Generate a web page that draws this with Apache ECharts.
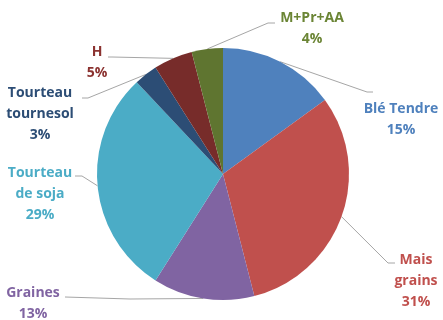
<!DOCTYPE html>
<html>
<head>
<meta charset="utf-8">
<script src="https://cdn.jsdelivr.net/npm/echarts@6/dist/echarts.min.js"></script>
<style>
html,body{margin:0;padding:0;background:#fff;}
#chart{width:443px;height:320px;}
</style>
</head>
<body>
<div id="chart"></div>
<script>
const categories = ['Blé Tendre', 'Mais\ngrains', 'Graines', 'Tourteau\nde soja', 'Tourteau\ntournesol', 'H', 'M+Pr+AA'];
const values = [15, 31, 13, 29, 3, 5, 4];
const sliceColors = ['#4F81BD', '#C0504D', '#8064A2', '#4BACC6', '#2C4D75', '#772C2A', '#5F7530'];
const labelColors = ['#4F81BD', '#C0504D', '#8064A2', '#4BACC6', '#2C4D75', '#8B3230', '#6B8535'];

// label block centres and elbow points (layout only)
const labelPos = [
  {x: 401, y: 120, elbow: [367, 92], end: [373, 92]},
  {x: 416, y: 281, elbow: [388, 263], end: [395, 263]},
  {x: 33, y: 304, elbow: [130, 299], end: [65, 297]},
  {x: 40, y: 194, elbow: [82, 176], end: [75, 176]},
  {x: 40, y: 114, elbow: [88, 98], end: [82, 98]},
  {x: 97, y: 63, elbow: [112, 57], end: [108, 57]},
  {x: 312, y: 29, elbow: [268, 23], end: [275, 23]}
];

const chart = echarts.init(document.getElementById('chart'), null, {renderer: 'canvas'});
chart.setOption({
  backgroundColor: '#ffffff',
  animation: false,
  series: [{
    type: 'pie',
    center: [223, 174],
    radius: [0, 126],
    startAngle: 90,
    clockwise: true,
    avoidLabelOverlap: false,
    data: categories.map((c, i) => ({
      name: c,
      value: values[i],
      itemStyle: {color: sliceColors[i]},
      label: {color: labelColors[i]}
    })),
    itemStyle: {borderWidth: 0},
    label: {
      show: true,
      formatter: p => p.name + '\n' + p.value + '%',
      fontFamily: 'Open Sans',
      fontWeight: 'bold',
      fontSize: 14,
      lineHeight: 21,
      align: 'center',
      overflow: 'none'
    },
    labelLine: {
      show: true,
      lineStyle: {color: '#A6A6A6', width: 1}
    },
    labelLayout: function (params) {
      const lp = labelPos[params.dataIndex];
      const start = params.labelLinePoints ? params.labelLinePoints[0] : lp.elbow;
      return {
        x: lp.x,
        y: lp.y,
        align: 'center',
        verticalAlign: 'middle',
        labelLinePoints: [start, lp.elbow, lp.end]
      };
    }
  }]
});
</script>
</body>
</html>
